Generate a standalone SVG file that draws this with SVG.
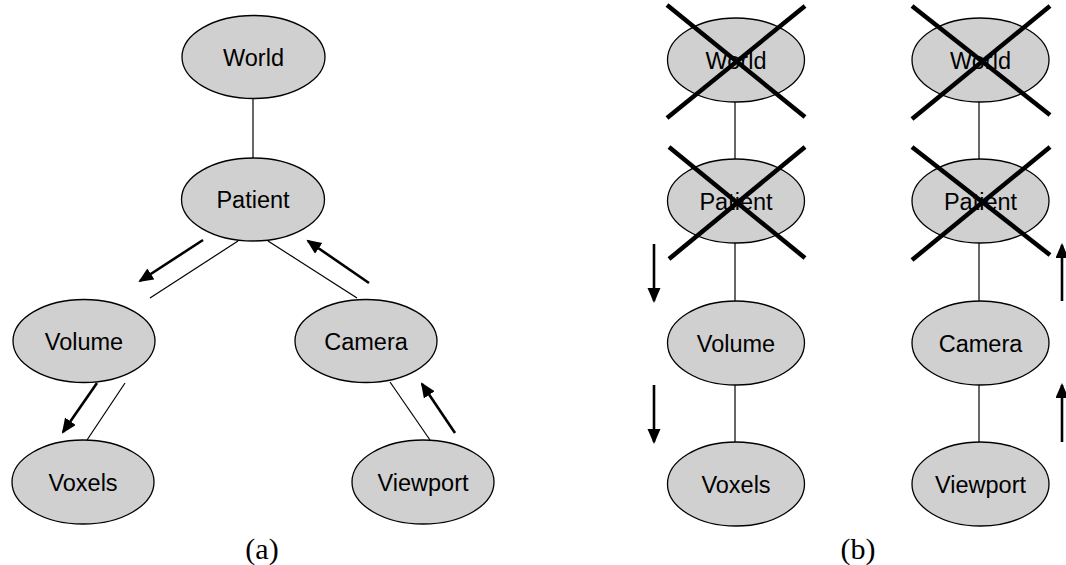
<svg xmlns="http://www.w3.org/2000/svg" width="1066" height="565" viewBox="0 0 1066 565">
<style>
.n ellipse{fill:#d0d0d0;stroke:#000;stroke-width:1.3}
.n text{font-family:"Liberation Sans",Arial,sans-serif;font-size:23.5px;text-anchor:middle;fill:#000}
.e line{stroke:#000;stroke-width:1.2}
.a line{stroke:#000;stroke-width:2.6;marker-end:url(#ah)}
.x line{stroke:#000;stroke-width:4.5}
.cap{font-family:"Liberation Serif","Times New Roman",serif;font-size:30px;text-anchor:middle;fill:#000}
</style>
<defs>
<marker id="ah" markerUnits="userSpaceOnUse" markerWidth="16" markerHeight="14" refX="13" refY="6.5" orient="auto">
<path d="M0,0 L15,6.5 L0,13 z" fill="#000"/>
</marker>
</defs>
<rect width="1066" height="565" fill="#fff"/>
<g id="connectors" class="e">
<line x1="253" y1="98" x2="253" y2="158"/>
<line x1="238" y1="241" x2="150" y2="298"/>
<line x1="268" y1="241" x2="357" y2="298"/>
<line x1="125" y1="383" x2="87" y2="440"/>
<line x1="390" y1="382" x2="430" y2="440"/>
<line x1="735" y1="102" x2="735" y2="159"/>
<line x1="735" y1="243" x2="735" y2="301"/>
<line x1="735" y1="385" x2="735" y2="442"/>
<line x1="979" y1="102" x2="979" y2="159"/>
<line x1="979" y1="243" x2="979" y2="301"/>
<line x1="979" y1="385" x2="979" y2="442"/>
</g>
<g id="a-world" class="n"><ellipse cx="253.5" cy="57" rx="71.5" ry="41.5"/><text x="253.5" y="65.5">World</text></g>
<g id="a-patient" class="n"><ellipse cx="253" cy="199.5" rx="71.5" ry="41.5"/><text x="253" y="208">Patient</text></g>
<g id="a-volume" class="n"><ellipse cx="84" cy="341" rx="71" ry="41.5"/><text x="84" y="349.5">Volume</text></g>
<g id="a-camera" class="n"><ellipse cx="366" cy="341" rx="71" ry="41.5"/><text x="366" y="349.5">Camera</text></g>
<g id="a-voxels" class="n"><ellipse cx="83" cy="482" rx="71" ry="42"/><text x="83" y="490.5">Voxels</text></g>
<g id="a-viewport" class="n"><ellipse cx="423" cy="482" rx="71" ry="42"/><text x="423" y="490.5">Viewport</text></g>
<g id="b-world-1" class="n"><ellipse cx="736" cy="60" rx="68.5" ry="42"/><text x="736" y="68.5">World</text></g>
<g id="b-patient-1" class="n"><ellipse cx="736" cy="201" rx="68.5" ry="42"/><text x="736" y="209.5">Patient</text></g>
<g id="b-volume" class="n"><ellipse cx="736" cy="343" rx="68.5" ry="42"/><text x="736" y="351.5">Volume</text></g>
<g id="b-voxels" class="n"><ellipse cx="736" cy="484" rx="68.5" ry="42"/><text x="736" y="492.5">Voxels</text></g>
<g id="b-world-2" class="n"><ellipse cx="980.5" cy="60" rx="68.5" ry="42"/><text x="980.5" y="68.5">World</text></g>
<g id="b-patient-2" class="n"><ellipse cx="980.5" cy="201" rx="68.5" ry="42"/><text x="980.5" y="209.5">Patient</text></g>
<g id="b-camera" class="n"><ellipse cx="980.5" cy="343" rx="68.5" ry="42"/><text x="980.5" y="351.5">Camera</text></g>
<g id="b-viewport" class="n"><ellipse cx="980.5" cy="484" rx="68.5" ry="42"/><text x="980.5" y="492.5">Viewport</text></g>
<g id="crosses" class="x">
<line x1="667" y1="5" x2="805" y2="117"/><line x1="667" y1="118" x2="805" y2="6"/>
<line x1="669" y1="147" x2="805" y2="258"/><line x1="669" y1="259" x2="805" y2="147"/>
<line x1="912" y1="6" x2="1050" y2="115"/><line x1="912" y1="119" x2="1050" y2="6"/>
<line x1="912" y1="147" x2="1050" y2="255"/><line x1="912" y1="260" x2="1050" y2="147"/>
</g>
<g id="arrows" class="a">
<line x1="203" y1="240" x2="140" y2="281"/>
<line x1="369" y1="283" x2="308" y2="241"/>
<line x1="97" y1="383" x2="63" y2="432"/>
<line x1="455" y1="433" x2="422" y2="384"/>
<line x1="654" y1="244" x2="654" y2="301"/>
<line x1="654" y1="385" x2="654" y2="442"/>
<line x1="1062" y1="301" x2="1062" y2="245"/>
<line x1="1062" y1="442" x2="1062" y2="385"/>
</g>
<text class="cap" x="262" y="559">(a)</text>
<text class="cap" x="858" y="559">(b)</text>
</svg>
